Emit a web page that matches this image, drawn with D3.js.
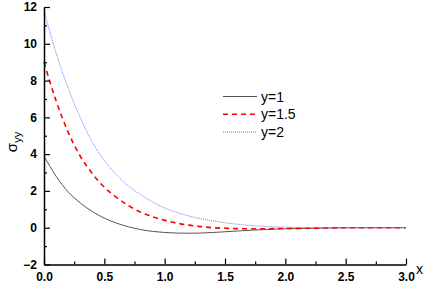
<!DOCTYPE html>
<html><head><meta charset="utf-8">
<script src="https://cdn.jsdelivr.net/npm/d3@7"></script>
<style>
html,body{margin:0;padding:0;background:#fff;}
svg text{font-family:"Liberation Sans",Arial,sans-serif;}
</style></head>
<body><svg id="c" width="425" height="284"></svg>
<script>
const xs = [0,0.1,0.2,0.3,0.4,0.5,0.6,0.7,0.8,0.9,1.0,1.1,1.2,1.3,1.4,1.5,1.6,1.7,1.8,1.9,2.0,2.2,2.4,2.6,2.8,3.0];
const sY1  = [3.9,2.8,1.95,1.35,0.88,0.52,0.25,0.05,-0.1,-0.2,-0.26,-0.29,-0.3,-0.29,-0.26,-0.22,-0.18,-0.14,-0.11,-0.08,-0.06,-0.03,-0.01,0,0,0];
const sY15 = [9.0,6.9,5.2,3.9,2.95,2.2,1.65,1.2,0.85,0.6,0.4,0.25,0.14,0.06,0.0,-0.03,-0.05,-0.06,-0.06,-0.05,-0.04,-0.03,-0.01,0,0,0];
const sY2  = [11.8,9.5,7.6,6.0,4.65,3.65,2.88,2.27,1.8,1.4,1.07,0.83,0.64,0.49,0.37,0.27,0.19,0.13,0.08,0.05,0.03,0.01,0,0,0,0];
const seriesNames = ["y=1","y=1.5","y=2"];
const xTicks = [0,0.5,1.0,1.5,2.0,2.5,3.0];
const yTicks = [-2,0,2,4,6,8,10,12];

const svg = d3.select("#c");
const x = d3.scaleLinear().domain([0,3]).range([44,406]);
const y = d3.scaleLinear().domain([-2,12]).range([264.5,7]);

const styles = [
  {color:"#555", width:1, dash:null},
  {color:"#ff0000", width:1.6, dash:"5,4"},
  {color:"#7777ff", width:1, dash:"1,1"}
];
const data = [sY1,sY15,sY2];

const line = d3.line().x((d,i)=>x(xs[i])).y(d=>y(d)).curve(d3.curveMonotoneX);
data.forEach((s,k)=>{
  svg.append("path").attr("d",line(s)).attr("fill","none")
    .attr("stroke",styles[k].color).attr("stroke-width",styles[k].width)
    .attr("stroke-dasharray",styles[k].dash);
});

// axes
const xAxis = d3.axisBottom(x).tickValues(xTicks).tickFormat(d3.format(".1f")).tickSizeInner(-6).tickSizeOuter(0).tickPadding(8);
const gx = svg.append("g").attr("transform",`translate(0,${y(-2)})`).call(xAxis);
const xMinor = d3.axisBottom(x).tickValues(d3.range(0.25,3,0.5)).tickSize(-3).tickFormat("");
svg.append("g").attr("transform",`translate(0,${y(-2)})`).call(xMinor).select(".domain").remove();

const yAxis = d3.axisLeft(y).tickValues(yTicks).tickFormat(d3.format("d")).tickSizeInner(-6).tickSizeOuter(0).tickPadding(7);
const gy = svg.append("g").attr("transform",`translate(${x(0)},0)`).call(yAxis);
const yMinor = d3.axisLeft(y).tickValues(d3.range(-1,12,2)).tickSize(-3).tickFormat("");
svg.append("g").attr("transform",`translate(${x(0)},0)`).call(yMinor).select(".domain").remove();

svg.selectAll(".domain").attr("stroke","#000").attr("stroke-width",1.5);
svg.selectAll(".tick line").attr("stroke","#000").attr("stroke-width",1.2);
svg.selectAll(".tick text").attr("font-size",12).attr("font-weight","bold").attr("fill","#000")
  .style("font-family","'Liberation Sans',Arial,sans-serif");
gx.selectAll(".tick text").attr("dy","0.71em");

// axis titles
svg.append("text").attr("x",416).attr("y",274).attr("font-size",14).text("x");
const yl = svg.append("text").attr("transform","translate(17,142) rotate(-90)").attr("text-anchor","middle").attr("font-size",15);
yl.append("tspan").text("σ");
yl.append("tspan").attr("dy",4).attr("font-size",11).text("yy");

// legend
const lg = svg.append("g");
seriesNames.forEach((n,k)=>{
  const yy = 96.5 + k*17.8;
  lg.append("line").attr("x1",223).attr("x2",257).attr("y1",yy).attr("y2",yy)
    .attr("stroke",styles[k].color).attr("stroke-width",styles[k].width).attr("stroke-dasharray",styles[k].dash);
  lg.append("text").attr("x",261).attr("y",yy+5).attr("font-size",14).text(n);
});
</script></body></html>
